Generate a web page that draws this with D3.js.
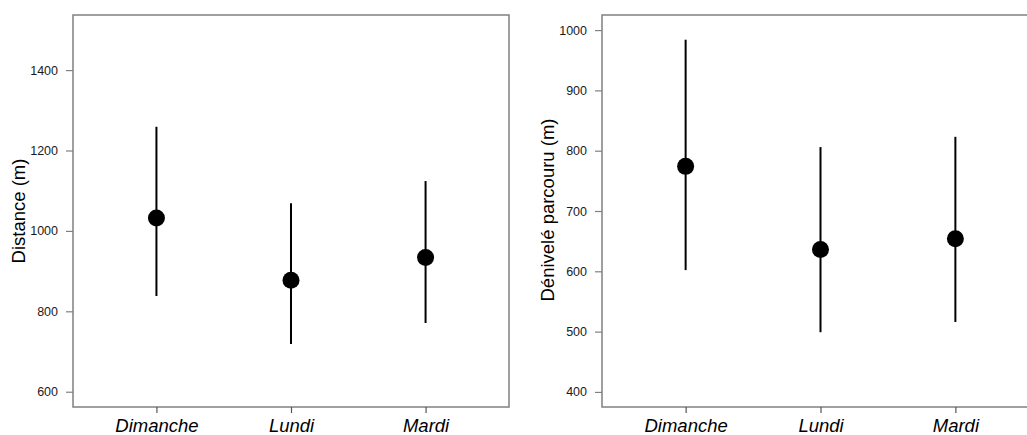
<!DOCTYPE html>
<html>
<head>
<meta charset="utf-8">
<script src="https://cdn.jsdelivr.net/npm/d3@7"></script>
<style>
  html, body { margin: 0; padding: 0; background: #fff; }
  svg { display: block; }
  text { font-family: "Liberation Sans", Arial, sans-serif; }
</style>
</head>
<body>
<svg id="chart" width="1027" height="435"></svg>
<script>
// ---- Data ----
const categories = ["Dimanche", "Lundi", "Mardi"];

const distanceMean  = [1032, 877, 934];
const distanceLower = [838, 719, 771];
const distanceUpper = [1259, 1069, 1124];
const distanceTicks = [600, 800, 1000, 1200, 1400];

const deniveleMean  = [774, 636, 654];
const deniveleLower = [602, 499, 516];
const deniveleUpper = [984, 806, 823];
const deniveleTicks = [400, 500, 600, 700, 800, 900, 1000];

const svg = d3.select("#chart");

function panel(opts) {
  const g = svg.append("g");
  const x = d3.scaleLinear().domain([0.38, 3.62]).range([opts.left, opts.right]);
  const y = d3.scaleLinear().domain(opts.yDomain).range([407, 15]);

  // box
  g.append("rect")
    .attr("x", opts.left).attr("y", 15)
    .attr("width", opts.right - opts.left).attr("height", 392)
    .attr("fill", "none").attr("stroke", "#808080").attr("stroke-width", 1.5);

  // y axis
  const ya = g.append("g").attr("transform", `translate(${opts.left},0)`)
    .call(d3.axisLeft(y).tickValues(opts.ticks).tickSize(7).tickPadding(8).tickFormat(d3.format("d")));
  ya.select(".domain").remove();
  ya.selectAll(".tick line").attr("stroke", "#808080").attr("stroke-width", 1.2);
  ya.selectAll(".tick text").attr("fill", "#1a1a1a")
    .style("font-size", "12.5px").style("font-family", "Liberation Sans, Arial, sans-serif");

  // x axis
  const xa = g.append("g").attr("transform", "translate(0,407)")
    .call(d3.axisBottom(x).tickValues([1, 2, 3]).tickSize(6).tickPadding(5.5)
      .tickFormat((d) => categories[d - 1]));
  xa.select(".domain").remove();
  xa.selectAll(".tick line").attr("stroke", "#555").attr("stroke-width", 1.2);
  xa.selectAll(".tick text").attr("fill", "#000")
    .style("font-size", "18.5px").style("font-style", "italic")
    .style("font-family", "Liberation Sans, Arial, sans-serif");

  // y label
  g.append("text")
    .attr("transform", `translate(${opts.labelX},${opts.labelY}) rotate(-90)`)
    .attr("text-anchor", "middle")
    .style("font-size", "18.5px")
    .attr("fill", "#000")
    .text(opts.label);

  const idx = categories.map((c, i) => i);
  // error bars
  g.selectAll("line.err").data(idx).enter().append("line")
    .attr("class", "err")
    .attr("x1", (i) => x(i + 1)).attr("x2", (i) => x(i + 1))
    .attr("y1", (i) => y(opts.lower[i])).attr("y2", (i) => y(opts.upper[i]))
    .attr("stroke", "#000").attr("stroke-width", 2);
  // points
  g.selectAll("circle.pt").data(idx).enter().append("circle")
    .attr("class", "pt")
    .attr("cx", (i) => x(i + 1)).attr("cy", (i) => y(opts.mean[i]))
    .attr("r", 8.5).attr("fill", "#000");
}

panel({
  left: 73, right: 509,
  yDomain: [562, 1537],
  ticks: distanceTicks,
  mean: distanceMean, lower: distanceLower, upper: distanceUpper,
  label: "Distance (m)", labelX: 25, labelY: 211
});

panel({
  left: 602, right: 1039,
  yDomain: [375, 1025],
  ticks: deniveleTicks,
  mean: deniveleMean, lower: deniveleLower, upper: deniveleUpper,
  label: "Dénivelé parcouru (m)", labelX: 554, labelY: 210
});
</script>
</body>
</html>
